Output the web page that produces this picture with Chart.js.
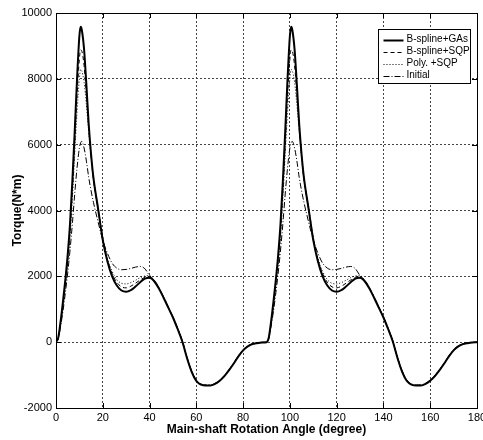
<!DOCTYPE html>
<html>
<head>
<meta charset="utf-8">
<script src="https://cdn.jsdelivr.net/npm/chart.js@4.4.1/dist/chart.umd.min.js"></script>
<style>
    html, body { margin: 0; padding: 0; background: #fff; }
    #wrap { width: 483px; height: 440px; }
</style>
</head>
<body>
<div id="wrap"><canvas id="torque" width="483" height="440"></canvas></div>
<script>
// rotation angle (degree)
var angles = [
    0, 1, 2, 3, 4, 5, 6, 7, 8, 9, 10, 10.5, 11, 12, 13, 14, 15, 16, 18, 20,
    22, 24, 26, 28, 30, 32, 34, 36, 38, 40, 42, 44, 46, 48, 50, 52, 54, 56, 58, 60,
    62, 64, 66, 68, 70, 72, 74, 76, 78, 80, 82, 84, 86, 88,
    90, 91, 92, 93, 94, 95, 96, 97, 98, 99, 100, 100.5, 101, 102, 103, 104, 105, 106, 108, 110,
    112, 114, 116, 118, 120, 122, 124, 126, 128, 130, 132, 134, 136, 138, 140, 142, 144, 146, 148, 150,
    152, 154, 156, 158, 160, 162, 164, 166, 168, 170, 172, 174, 176, 178, 180
];

var splineGA = [
    0, 150, 650, 1250, 1900, 2650, 3600, 4900, 6400, 8000, 9300, 9580, 9500, 8900, 7800, 6600, 5700, 5000, 4050, 3100,
    2450, 2000, 1720, 1570, 1530, 1580, 1690, 1820, 1930, 1960, 1850, 1630, 1350, 1050, 750, 400, 20, -480, -900, -1180,
    -1290, -1320, -1320, -1270, -1170, -1030, -850, -650, -430, -250, -130, -60, -30, -10,
    0, 150, 650, 1250, 1900, 2650, 3600, 4900, 6400, 8000, 9300, 9580, 9500, 8900, 7800, 6600, 5700, 5000, 4050, 3100,
    2450, 2000, 1720, 1570, 1530, 1580, 1690, 1820, 1930, 1960, 1850, 1630, 1350, 1050, 750, 400, 20, -480, -900, -1180,
    -1290, -1320, -1320, -1270, -1170, -1030, -850, -650, -430, -250, -130, -60, -30, -10, 0
];

var splineSQP = [
    0, 140, 600, 1150, 1800, 2500, 3400, 4600, 6000, 7500, 8600, 8880, 8850, 8400, 7500, 6500, 5650, 4950, 4050, 3150,
    2500, 2080, 1820, 1680, 1650, 1700, 1790, 1890, 1970, 2000, 1870, 1640, 1360, 1060, 760, 410, 30, -470, -890, -1170,
    -1285, -1315, -1315, -1265, -1165, -1025, -845, -645, -425, -245, -125, -55, -25, -8,
    0, 140, 600, 1150, 1800, 2500, 3400, 4600, 6000, 7500, 8600, 8880, 8850, 8400, 7500, 6500, 5650, 4950, 4050, 3150,
    2500, 2080, 1820, 1680, 1650, 1700, 1790, 1890, 1970, 2000, 1870, 1640, 1360, 1060, 760, 410, 30, -470, -890, -1170,
    -1285, -1315, -1315, -1265, -1165, -1025, -845, -645, -425, -245, -125, -55, -25, -8, 0
];

var polySQP = [
    0, 130, 560, 1080, 1700, 2350, 3200, 4350, 5700, 7000, 8000, 8280, 8250, 7900, 7200, 6400, 5650, 5000, 4100, 3200,
    2550, 2150, 1900, 1790, 1770, 1810, 1880, 1960, 2010, 2020, 1880, 1650, 1370, 1070, 770, 420, 40, -460, -880, -1160,
    -1280, -1310, -1310, -1260, -1160, -1020, -840, -640, -420, -240, -120, -50, -20, -5,
    0, 130, 560, 1080, 1700, 2350, 3200, 4350, 5700, 7000, 8000, 8280, 8250, 7900, 7200, 6400, 5650, 5000, 4100, 3200,
    2550, 2150, 1900, 1790, 1770, 1810, 1880, 1960, 2010, 2020, 1880, 1650, 1370, 1070, 770, 420, 40, -460, -880, -1160,
    -1280, -1310, -1310, -1260, -1160, -1020, -840, -640, -420, -240, -120, -50, -20, -5, 0
];

var initial = [
    0, 120, 500, 950, 1500, 2100, 2800, 3600, 4500, 5300, 5900, 6050, 6100, 5900, 5500, 5000, 4600, 4250, 3650, 3100,
    2700, 2400, 2250, 2200, 2210, 2240, 2280, 2300, 2230, 2020, 1870, 1650, 1370, 1070, 770, 420, 40, -460, -870, -1150,
    -1270, -1300, -1300, -1250, -1150, -1010, -830, -630, -410, -230, -110, -45, -18, -5,
    0, 120, 500, 950, 1500, 2100, 2800, 3600, 4500, 5300, 5900, 6050, 6100, 5900, 5500, 5000, 4600, 4250, 3650, 3100,
    2700, 2400, 2250, 2200, 2210, 2240, 2280, 2300, 2230, 2020, 1870, 1650, 1370, 1070, 770, 420, 40, -460, -870, -1150,
    -1270, -1300, -1300, -1250, -1150, -1010, -830, -630, -410, -230, -110, -45, -18, -5, 0
];

var seriesNames = ['B-spline+GAs', 'B-spline+SQP', 'Poly. +SQP', 'Initial'];
var xTicks = [0, 20, 40, 60, 80, 100, 120, 140, 160, 180];
var yTicks = [-2000, 0, 2000, 4000, 6000, 8000, 10000];

function toPoints(values) {
    return angles.map(function(a, i) { return { x: a, y: values[i] }; });
}

var font = "'Liberation Sans', Arial, sans-serif";

// box, inward ticks and matlab style legend
var matlabFrame = {
    id: 'matlabFrame',
    afterDraw: function(chart) {
        var ctx = chart.ctx;
        var area = chart.chartArea;
        var xs = chart.scales.x, ys = chart.scales.y;
        ctx.save();
        ctx.strokeStyle = '#000';
        ctx.lineWidth = 1;
        ctx.setLineDash([]);
        ctx.strokeRect(area.left + 0.5, area.top + 0.5, area.right - area.left, area.bottom - area.top);
        ctx.beginPath();
        xTicks.forEach(function(t) {
            var px = Math.round(xs.getPixelForValue(t)) + 0.5;
            ctx.moveTo(px, area.bottom); ctx.lineTo(px, area.bottom - 5);
            ctx.moveTo(px, area.top); ctx.lineTo(px, area.top + 5);
        });
        yTicks.forEach(function(t) {
            var py = Math.round(ys.getPixelForValue(t)) + 0.5;
            ctx.moveTo(area.left, py); ctx.lineTo(area.left + 5, py);
            ctx.moveTo(area.right, py); ctx.lineTo(area.right - 5, py);
        });
        ctx.stroke();

        // legend
        var bx = 378.5, by = 29.5, bw = 92, bh = 54;
        ctx.fillStyle = '#fff';
        ctx.fillRect(bx, by, bw, bh);
        ctx.strokeRect(bx, by, bw, bh);
        ctx.font = '10px ' + font;
        ctx.textBaseline = 'middle';
        chart.data.datasets.forEach(function(ds, i) {
            var y = by + 10 + i * 12;
            ctx.beginPath();
            ctx.lineWidth = ds.borderWidth;
            ctx.setLineDash(ds.borderDash || []);
            ctx.moveTo(bx + 5, Math.round(y) + 0.5);
            ctx.lineTo(bx + 25, Math.round(y) + 0.5);
            ctx.stroke();
            ctx.fillStyle = '#000';
            ctx.fillText(ds.label, bx + 28, y);
        });
        ctx.restore();
    }
};

document.addEventListener('DOMContentLoaded', function() {
    var ctx = document.getElementById('torque').getContext('2d');
    var dashes = [[], [4, 3], [1, 2], [6, 2, 1, 2]];
    var widths = [2, 1, 1, 1];
    var allValues = [splineGA, splineSQP, polySQP, initial];

    var torqueChart = new Chart(ctx, {
        type: 'line',
        data: {
            datasets: allValues.map(function(v, i) {
                return {
                    label: seriesNames[i],
                    data: toPoints(v),
                    borderColor: '#000',
                    borderWidth: widths[i],
                    borderDash: dashes[i],
                    pointRadius: 0,
                    fill: false,
                    cubicInterpolationMode: 'monotone'
                };
            })
        },
        options: {
            responsive: false,
            animation: false,
            layout: {
                padding: { top: 13, right: 6, left: 0, bottom: 0 }
            },
            plugins: {
                legend: { display: false },
                tooltip: { enabled: false }
            },
            scales: {
                x: {
                    type: 'linear',
                    min: 0,
                    max: 180,
                    afterBuildTicks: function(s) { s.ticks = xTicks.map(function(v) { return { value: v }; }); },
                    afterFit: function(s) { s.height = 32; s.paddingLeft = 0; s.paddingRight = 0; },
                    grid: {
                        color: '#444',
                        lineWidth: 1,
                        drawTicks: false,
                        tickLength: 0
                    },
                    border: { display: false, dash: [2, 2] },
                    ticks: {
                        color: '#000',
                        padding: 3,
                        maxRotation: 0,
                        font: { family: font, size: 11 },
                        callback: function(v) { return String(v); }
                    },
                    title: {
                        display: true,
                        text: 'Main-shaft Rotation Angle (degree)',
                        color: '#000',
                        padding: { top: 0, bottom: 3 },
                        font: { family: font, size: 12, weight: 'bold' }
                    }
                },
                y: {
                    min: -2000,
                    max: 10000,
                    afterBuildTicks: function(s) { s.ticks = yTicks.map(function(v) { return { value: v }; }); },
                    afterFit: function(s) { s.width = 56; },
                    grid: {
                        color: '#444',
                        lineWidth: 1,
                        drawTicks: false,
                        tickLength: 0
                    },
                    border: { display: false, dash: [2, 2] },
                    ticks: {
                        color: '#000',
                        padding: 4,
                        font: { family: font, size: 11 },
                        callback: function(v) { return String(v); }
                    },
                    title: {
                        display: true,
                        text: 'Torque(N*m)',
                        color: '#000',
                        padding: { top: 10, bottom: 0 },
                        font: { family: font, size: 12, weight: 'bold' }
                    }
                }
            }
        },
        plugins: [matlabFrame]
    });
});
</script>
</body>
</html>
